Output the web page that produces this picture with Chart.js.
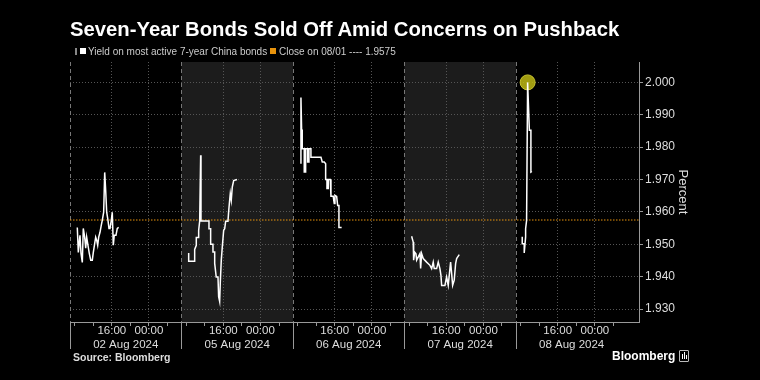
<!DOCTYPE html>
<html>
<head>
<meta charset="utf-8">
<script src="https://cdn.jsdelivr.net/npm/chart.js@4.4.1/dist/chart.umd.min.js"></script>
<style>
  html, body { margin: 0; padding: 0; background: #000; }
  #wrap { position: relative; width: 760px; height: 380px; overflow: hidden; font-family: 'Liberation Sans', Arial, sans-serif; }
  #chart { position: absolute; left: 0; top: 0; }
  .abs { position: absolute; white-space: nowrap; line-height: 1; }
  .title { left: 70px; top: 19px; font-size: 20.3px; font-weight: bold; color: #fff; }
  .leg { top: 47px; font-size: 10px; color: #ccc; }
  .sw { top: 48px; width: 6px; height: 6px; }
  .source { left: 73px; top: 352px; font-size: 10.5px; font-weight: bold; color: #ddd; }
  .logo { left: 612px; top: 350px; font-size: 12px; font-weight: bold; color: #fff; }
  .icon { left: 679px; top: 350px; width: 8px; height: 10px; border: 1px solid #bbb; border-radius: 1px; }
  .icon i { position: absolute; bottom: 2px; width: 1px; background: #fff; }
</style>
</head>
<body>
<div id="wrap">
  <canvas id="chart" width="760" height="380"></canvas>
  <div class="abs title">Seven-Year Bonds Sold Off Amid Concerns on Pushback</div>
  <div class="abs" style="left:75px;top:48px;width:2px;height:7px;background:#888;"></div>
  <div class="abs sw" style="left:80px;background:#fff;"></div>
  <div class="abs leg" style="left:88px;">Yield on most active 7-year China bonds</div>
  <div class="abs sw" style="left:270px;background:#e8930c;"></div>
  <div class="abs leg" style="left:279px;">Close on 08/01 ---- 1.9575</div>
  <div class="abs source">Source: Bloomberg</div>
  <div class="abs logo">Bloomberg</div>
  <div class="abs icon"><i style="left:2px;height:5px"></i><i style="left:4px;height:7px"></i><i style="left:6px;height:4px"></i></div>
</div>
<script>
// session labels, one section per trading day
const days = ['02 Aug 2024', '05 Aug 2024', '06 Aug 2024', '07 Aug 2024', '08 Aug 2024'];
const shadedDays = [1, 3];

// intraday yields (hour of day, percent)
const hours02 = [8.57, 8.79, 9.15, 9.37, 9.65, 9.86, 10.16, 10.38, 10.59, 10.87, 11.15, 11.46, 11.8, 12.02, 12.32, 12.53, 12.75, 12.96, 13.18, 13.46, 13.74, 13.95, 14.25, 14.47, 14.68, 14.9, 15.18, 15.39, 15.61, 15.89, 16.1, 16.32, 16.53, 16.9, 17.18, 17.48];
const yield02 = [1.9552, 1.9475, 1.9528, 1.9472, 1.9444, 1.9549, 1.9522, 1.9488, 1.9522, 1.9497, 1.9472, 1.9451, 1.9451, 1.9475, 1.9503, 1.9522, 1.9512, 1.9497, 1.9522, 1.9537, 1.9559, 1.9574, 1.9599, 1.9722, 1.9667, 1.9599, 1.9574, 1.9549, 1.9549, 1.9574, 1.9599, 1.9497, 1.9528, 1.9528, 1.9549, 1.9552];

const hours05 = [8.55, 8.55, 9.84, 9.84, 10.19, 10.19, 10.7, 10.7, 10.92, 11.13, 11.2, 12.92, 12.92, 13.28, 13.28, 13.78, 13.78, 14.15, 14.15, 14.48, 14.86, 15.0, 15.22, 15.35, 15.57, 15.79, 16.08, 16.3, 16.51, 17.01, 17.15, 17.37, 17.51, 17.72, 17.94, 18.24, 18.95];
const yield05 = [1.9473, 1.9448, 1.9448, 1.9484, 1.9497, 1.9521, 1.9521, 1.9543, 1.9572, 1.9775, 1.9572, 1.9572, 1.9548, 1.9548, 1.95, 1.95, 1.9476, 1.9476, 1.9441, 1.9399, 1.9399, 1.9338, 1.9323, 1.938, 1.9451, 1.9492, 1.9543, 1.9548, 1.9571, 1.9571, 1.96, 1.9636, 1.9657, 1.9636, 1.9677, 1.9697, 1.97];

const hours06 = [8.72, 8.72, 8.87, 9.0, 9.0, 9.43, 9.43, 9.73, 9.73, 10.16, 10.16, 10.44, 10.44, 10.87, 10.87, 13.03, 13.31, 13.74, 14.04, 14.04, 14.32, 14.32, 14.6, 14.6, 15.03, 15.18, 15.67, 15.89, 16.04, 16.41, 16.62, 16.9, 16.9, 17.48];
const yield06 = [1.9749, 1.9953, 1.9852, 1.9852, 1.9795, 1.9795, 1.9723, 1.9723, 1.9795, 1.9795, 1.9754, 1.9754, 1.9795, 1.9795, 1.9769, 1.9769, 1.9754, 1.9754, 1.9749, 1.97, 1.97, 1.9672, 1.9672, 1.97, 1.97, 1.9648, 1.9648, 1.9626, 1.9651, 1.9648, 1.962, 1.962, 1.9552, 1.9552];

const hours07 = [8.55, 8.89, 8.98, 9.2, 9.48, 9.63, 10.34, 10.49, 10.7, 11.05, 11.78, 12.49, 12.86, 13.2, 13.41, 13.93, 14.28, 14.64, 14.86, 15.01, 15.72, 16.08, 16.43, 16.94, 17.16, 17.38, 17.72, 18.02, 18.24, 18.8];
const yield07 = [1.9525, 1.9507, 1.9451, 1.9476, 1.9471, 1.9451, 1.9471, 1.9425, 1.9471, 1.9456, 1.9445, 1.9435, 1.9425, 1.9445, 1.9425, 1.9425, 1.9445, 1.9425, 1.9404, 1.9373, 1.9373, 1.9399, 1.9373, 1.9445, 1.941, 1.9373, 1.9389, 1.944, 1.9456, 1.9468];

const hours08 = [8.36, 8.36, 8.79, 8.79, 9.09, 9.09, 9.3, 9.52, 9.9, 10.23, 10.23, 10.44];
const yield08 = [1.9523, 1.9502, 1.9502, 1.9473, 1.9523, 1.9548, 1.9574, 2.0, 1.9852, 1.9852, 1.9723, 1.9725];

const closeLevel = 1.9575;
const yTicks = [1.93, 1.94, 1.95, 1.96, 1.97, 1.98, 1.99, 2.0];
const xTickHours = [8, 12, 16, 20, 0, 4];
const xLabelHours = [16, 0];

const SECTION = 24;   // each trading day gets the same width
const DAY_START = 7;  // hour at the left edge of a section
const X_MAX = 122.5;

function toX(dayIdx, hour) {
    let h = hour - DAY_START;
    if (h < 0) h += 24;
    return dayIdx * SECTION + h;
}
function hourOf(v) {
    return Math.round(((v % SECTION) + DAY_START) % 24);
}
function isMajorY(v) {
    return yTicks.some(t => Math.abs(t - v) < 1e-9);
}

Chart.defaults.font.family = "'Liberation Sans', Arial, sans-serif";
Chart.defaults.color = '#ddd';

const series = [[hours02, yield02], [hours05, yield05], [hours06, yield06], [hours07, yield07], [hours08, yield08]];

const lineSets = series.map(([hs, ys], i) => ({
    label: 'Yield on most active 7-year China bonds',
    data: hs.map((h, j) => ({ x: toX(i, h), y: ys[j] })),
    borderColor: '#ffffff',
    borderWidth: 1.5,
    pointRadius: 0,
    tension: 0,
    order: 1
}));

// highlight the session high of the last day
const last = series.length - 1;
const peakIdx = yield08.indexOf(Math.max(...yield08));
const peakSet = {
    label: 'peak',
    data: [{ x: toX(last, hours08[peakIdx]), y: yield08[peakIdx] }],
    showLine: false,
    pointRadius: 7.5,
    pointBackgroundColor: 'rgba(190, 185, 20, 0.85)',
    pointBorderColor: '#c9c430',
    pointBorderWidth: 1,
    order: 2
};

const closeSet = {
    label: 'Close on 08/01',
    data: [{ x: 0, y: closeLevel }, { x: X_MAX, y: closeLevel }],
    borderColor: '#e8930c',
    borderWidth: 1,
    borderDash: [1.5, 1.5],
    pointRadius: 0,
    order: 3
};

const sectionPlugin = {
    id: 'sections',
    beforeDraw(chart) {
        const { ctx, chartArea: a, scales: { x } } = chart;
        ctx.save();
        ctx.fillStyle = '#1c1c1c';
        shadedDays.forEach(k => {
            const x0 = x.getPixelForValue(k * SECTION);
            const x1 = x.getPixelForValue((k + 1) * SECTION);
            ctx.fillRect(x0, a.top, x1 - x0, a.bottom - a.top);
        });
        ctx.restore();
    },
    beforeDatasetsDraw(chart) {
        const { ctx, chartArea: a, scales: { x } } = chart;
        ctx.save();
        ctx.lineWidth = 1;
        days.forEach((d, k) => {
            const px = Math.round(x.getPixelForValue(k * SECTION)) + 0.5;
            ctx.strokeStyle = '#777';
            ctx.setLineDash([4, 3]);
            ctx.beginPath(); ctx.moveTo(px, a.top); ctx.lineTo(px, a.bottom); ctx.stroke();
            ctx.setLineDash([]);
            ctx.strokeStyle = '#999';
            ctx.beginPath(); ctx.moveTo(px, a.bottom); ctx.lineTo(px, a.bottom + 27); ctx.stroke();
        });
        ctx.restore();
    }
};

new Chart(document.getElementById('chart'), {
    type: 'line',
    data: { datasets: [...lineSets, peakSet, closeSet] },
    plugins: [sectionPlugin],
    options: {
        responsive: false,
        animation: false,
        layout: { padding: { left: 70, top: 62, right: 70, bottom: 27 } },
        plugins: { legend: { display: false }, tooltip: { enabled: false } },
        scales: {
            x: {
                type: 'linear',
                min: 0,
                max: X_MAX,
                afterBuildTicks: axis => {
                    const t = [];
                    days.forEach((d, k) => xTickHours.forEach(h => t.push({ value: toX(k, h) })));
                    axis.ticks = t;
                },
                afterFit: axis => { axis.height = 14; },
                ticks: {
                    autoSkip: false,
                    maxRotation: 0,
                    padding: -2,
                    color: '#ddd',
                    font: { size: 11.5 },
                    callback: v => {
                        const h = hourOf(v);
                        return xLabelHours.includes(h) ? String(h).padStart(2, '0') + ':00' : '';
                    }
                },
                grid: {
                    color: c => (c.tick && xLabelHours.includes(hourOf(c.tick.value))) ? '#555' : 'transparent',
                    tickColor: '#999',
                    tickLength: 4
                },
                border: { color: '#999', dash: [1, 2] }
            },
            xDate: {
                type: 'linear',
                position: 'bottom',
                weight: 1,
                min: 0,
                max: X_MAX,
                afterBuildTicks: axis => {
                    axis.ticks = days.map((d, k) => ({ value: k * SECTION + SECTION / 2 }));
                },
                afterFit: axis => { axis.height = 17; },
                ticks: {
                    autoSkip: false,
                    maxRotation: 0,
                    padding: -6,
                    color: '#ddd',
                    font: { size: 11.5 },
                    callback: (v, i) => days[i]
                },
                grid: { display: false },
                border: { display: false }
            },
            y: {
                position: 'right',
                min: 1.926,
                max: 2.0063,
                afterBuildTicks: axis => {
                    const t = [];
                    yTicks.forEach(v => {
                        t.push({ value: v });
                        if (v + 0.005 <= axis.max) t.push({ value: v + 0.005 });
                    });
                    axis.ticks = t;
                },
                afterFit: axis => { axis.width = 51; },
                ticks: {
                    padding: 2,
                    color: '#ddd',
                    font: { size: 12 },
                    callback: v => isMajorY(v) ? v.toFixed(3) : ''
                },
                grid: {
                    color: c => (c.tick && isMajorY(c.tick.value)) ? '#555' : 'transparent',
                    tickColor: '#999',
                    tickLength: 4
                },
                border: { color: '#999', dash: [1, 2] },
                title: {
                    display: true,
                    text: 'Percent',
                    color: '#ddd',
                    font: { size: 13 },
                    padding: { top: 0, bottom: 0 }
                }
            }
        }
    }
});
</script>
</body>
</html>
